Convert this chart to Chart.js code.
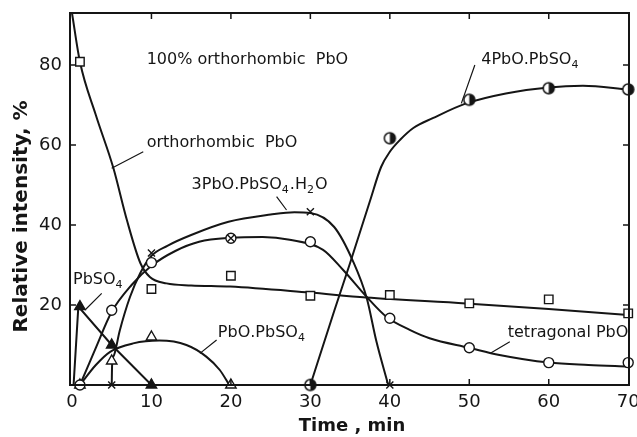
<!DOCTYPE html>
<html>
<head>
<meta charset="utf-8">
<script src="https://cdn.jsdelivr.net/npm/chart.js@4.4.1/dist/chart.umd.min.js"></script>
<style>
  html, body { margin: 0; padding: 0; background: #fff; }
  #wrap { width: 637px; height: 437px; }
</style>
</head>
<body>
<div id="wrap"><canvas id="chart" width="637" height="437"></canvas></div>
<script>
// axis ticks
const xTicks = [0, 10, 20, 30, 40, 50, 60, 70];
const yTicks = [20, 40, 60, 80];

// measured points (time, min / relative intensity, %)
const orthoT = [1, 10, 20, 30, 40, 50, 60, 70];
const orthoV = [80.8, 24, 27.3, 22.3, 22.5, 20.4, 21.4, 17.9];
const tetraT = [1, 5, 10, 20, 30, 40, 50, 60, 70];
const tetraV = [0, 18.7, 30.6, 36.7, 35.8, 16.7, 9.3, 5.6, 5.6];
const hydT = [5, 10, 20, 30, 40];
const hydV = [0, 33, 36.7, 43.3, 0];
const monoT = [1, 5, 10, 20];
const monoV = [0, 6, 12, 0];
const sulfT = [1, 5, 10];
const sulfV = [19.6, 10, 0];
const tetraBT = [30, 40, 50, 60, 70];
const tetraBV = [0, 61.7, 71.3, 74.2, 73.9];

// hand-drawn curves
const orthoCurveT = [0, 1, 3, 5.2, 6.9, 8.6, 9.8, 11.9, 15, 19.9, 29.9, 37, 49.6, 60, 70];
const orthoCurveV = [93, 80.8, 67.5, 54.3, 41.3, 30.5, 27, 25.4, 24.9, 24.6, 23.1, 21.9, 20.4, 19, 17.5];
const tetraCurveT = [1, 3, 5, 7.5, 10, 13, 16, 20, 24, 27.4, 31.6, 34.1, 37.1, 39.6, 42.5, 45, 50, 53.8, 60, 65, 70];
const tetraCurveV = [0, 9.3, 18.3, 25, 29.8, 33.5, 35.8, 36.8, 37, 36.3, 33.8, 28.8, 22, 17, 13.8, 11.7, 9.3, 7.5, 5.6, 5, 4.6];
const hydCurveT = [5, 5.05, 5.3, 6, 7.3, 8.6, 10, 12, 15, 19.7, 25, 28, 30, 33, 35.4, 37.1, 38.3, 39.8];
const hydCurveV = [0, 5, 7.5, 13.5, 22, 28, 32.3, 34.8, 37.5, 40.8, 42.6, 43.2, 43, 39.5, 30.8, 21.7, 11, 0];
const monoCurveT = [1, 3, 4.8, 7.7, 11, 14.4, 16.9, 18.6, 19.8];
const monoCurveV = [0, 5, 8.3, 10.4, 11.1, 10, 7.1, 3.75, 0];
const sulfLineT = [0.2, 0.8, 5, 10];
const sulfLineV = [0, 19.6, 10, 0];
const tetraBCurveT = [30, 33, 35, 37.5, 38.9, 40, 41.3, 43, 45.4, 49.6, 54.6, 60, 64.3, 70];
const tetraBCurveV = [0, 18.5, 30.5, 46, 54.5, 58.3, 61.3, 64.3, 66.7, 70.4, 72.9, 74.4, 74.8, 73.9];

const INK = '#151515';
const FONT = '"DejaVu Sans", sans-serif';
const TICK = 6;

const pts = (xs, ys) => xs.map((x, i) => ({ x, y: ys[i] }));

// half filled circle marker (right half black)
function halfDot(r) {
  const c = document.createElement('canvas');
  const s = Math.ceil(r * 2 + 4);
  c.width = c.height = s;
  const g = c.getContext('2d');
  const m = s / 2;
  g.beginPath(); g.arc(m, m, r, 0, Math.PI * 2); g.fillStyle = '#fff'; g.fill();
  g.beginPath(); g.moveTo(m, m); g.arc(m, m, r, -Math.PI / 2, Math.PI / 2); g.closePath();
  g.fillStyle = INK; g.fill();
  g.beginPath(); g.arc(m, m, r, 0, Math.PI * 2); g.lineWidth = 1.5; g.strokeStyle = INK; g.stroke();
  return c;
}

const curve = (xs, ys, straight) => ({
  type: 'line',
  data: pts(xs, ys),
  borderColor: INK,
  borderWidth: 2,
  pointRadius: 0,
  fill: false,
  tension: straight ? 0 : 0.4,
  cubicInterpolationMode: straight ? 'default' : 'monotone',
  order: 5
});

const marks = (xs, ys, style, r, bg, order) => ({
  type: 'scatter',
  data: pts(xs, ys),
  pointStyle: style,
  pointRadius: r,
  pointHoverRadius: r,
  pointBackgroundColor: bg,
  pointBorderColor: INK,
  pointBorderWidth: 1.4,
  showLine: false,
  clip: false,
  order: order
});

// labels and leader lines, in data units
const notes = [
  { text: '100% orthorhombic  PbO', x: 9.4, y: 81.25 },
  { text: 'orthorhombic  PbO', x: 9.4, y: 60.5, line: [8.97, 58.3, 4.99, 54.2] },
  { text: '3PbO.PbSO_4.H_2O', x: 15.05, y: 50, line: [25.75, 47.1, 27, 43.75] },
  { text: '4PbO.PbSO_4', x: 51.5, y: 81.25, line: [50.7, 80, 49.0, 70.4] },
  { text: 'PbSO_4', x: 0.13, y: 26.25, line: [3.74, 22.9, 1.64, 18.75] },
  { text: 'PbO.PbSO_4', x: 18.36, y: 13, line: [18.2, 11.25, 16.1, 7.9] },
  { text: 'tetragonal PbO', x: 54.84, y: 13, line: [55.1, 10.8, 52.6, 7.9] }
];

function drawRich(ctx, str, x, y) {
  let cx = x;
  for (let i = 0; i < str.length; i++) {
    let ch = str[i];
    if (ch === '_') {
      ch = str[++i];
      ctx.font = '11px ' + FONT;
      ctx.fillText(ch, cx, y + 5);
      cx += ctx.measureText(ch).width + 1;
    } else {
      ctx.font = '16px ' + FONT;
      ctx.fillText(ch, cx, y);
      cx += ctx.measureText(ch).width;
    }
  }
}

const decor = {
  id: 'decor',
  afterDatasetsDraw(chart) {
    const { ctx, chartArea: a, scales: { x, y } } = chart;
    ctx.save();
    ctx.strokeStyle = INK;
    ctx.fillStyle = INK;

    // frame + inward ticks on all four sides
    ctx.lineWidth = 2;
    ctx.strokeRect(a.left, a.top, a.right - a.left, a.bottom - a.top);
    ctx.lineWidth = 1.5;
    ctx.beginPath();
    xTicks.forEach(v => {
      if (v <= 0 || v >= 70) return;
      const px = x.getPixelForValue(v);
      ctx.moveTo(px, a.bottom); ctx.lineTo(px, a.bottom - TICK);
      ctx.moveTo(px, a.top); ctx.lineTo(px, a.top + TICK);
    });
    yTicks.forEach(v => {
      const py = y.getPixelForValue(v);
      ctx.moveTo(a.left, py); ctx.lineTo(a.left + TICK, py);
      ctx.moveTo(a.right, py); ctx.lineTo(a.right - TICK, py);
    });
    ctx.stroke();

    // leader lines
    ctx.lineWidth = 1.2;
    ctx.beginPath();
    notes.forEach(n => {
      if (!n.line) return;
      ctx.moveTo(x.getPixelForValue(n.line[0]), y.getPixelForValue(n.line[1]));
      ctx.lineTo(x.getPixelForValue(n.line[2]), y.getPixelForValue(n.line[3]));
    });
    ctx.stroke();

    // note text
    ctx.textAlign = 'left';
    ctx.textBaseline = 'middle';
    notes.forEach(n => drawRich(ctx, n.text, x.getPixelForValue(n.x), y.getPixelForValue(n.y)));

    // axis titles
    ctx.textAlign = 'center';
    ctx.textBaseline = 'alphabetic';
    ctx.font = 'bold 18px ' + FONT;
    ctx.fillText('Time , min', 352, 431);
    ctx.translate(27, 216.5);
    ctx.rotate(-Math.PI / 2);
    ctx.font = 'bold 20px ' + FONT;
    ctx.fillText('Relative intensity, %', 0, 0);
    ctx.restore();
  }
};

new Chart(document.getElementById('chart'), {
  data: {
    datasets: [
      marks(hydT, hydV, 'crossRot', 5, INK, 0),
      marks(orthoT, orthoV, 'rect', 6, '#fff', 1),
      marks(tetraT, tetraV, 'circle', 5, '#fff', 1),
      marks(monoT, monoV, 'triangle', 6, '#fff', 1),
      marks(sulfT, sulfV, 'triangle', 6, INK, 1),
      marks(tetraBT, tetraBV, halfDot(5.5), 5.5, '#fff', 1),
      curve(orthoCurveT, orthoCurveV),
      curve(tetraCurveT, tetraCurveV),
      curve(hydCurveT, hydCurveV),
      curve(monoCurveT, monoCurveV),
      curve(sulfLineT, sulfLineV, true),
      curve(tetraBCurveT, tetraBCurveV)
    ]
  },
  options: {
    responsive: false,
    animation: false,
    devicePixelRatio: 1,
    layout: { padding: { top: 13, right: 8, left: 0, bottom: 0 } },
    plugins: { legend: { display: false }, tooltip: { enabled: false } },
    scales: {
      x: {
        type: 'linear',
        position: 'bottom',
        min: -0.25,
        max: 70.1,
        afterBuildTicks: s => { s.ticks = xTicks.map(v => ({ value: v })); },
        afterFit: s => { s.height = 52; s.paddingLeft = 0; s.paddingRight = 0; },
        grid: { display: false, drawTicks: false },
        border: { display: false },
        ticks: { autoSkip: false, maxRotation: 0, padding: 7, color: INK, font: { family: FONT, size: 18 } }
      },
      y: {
        type: 'linear',
        min: 0,
        max: 93,
        afterBuildTicks: s => { s.ticks = yTicks.map(v => ({ value: v })); },
        afterFit: s => { s.width = 70; s.paddingTop = 0; s.paddingBottom = 0; },
        grid: { display: false, drawTicks: false },
        border: { display: false },
        ticks: { padding: 8, color: INK, font: { family: FONT, size: 18 } }
      }
    }
  },
  plugins: [decor]
});
</script>
</body>
</html>
